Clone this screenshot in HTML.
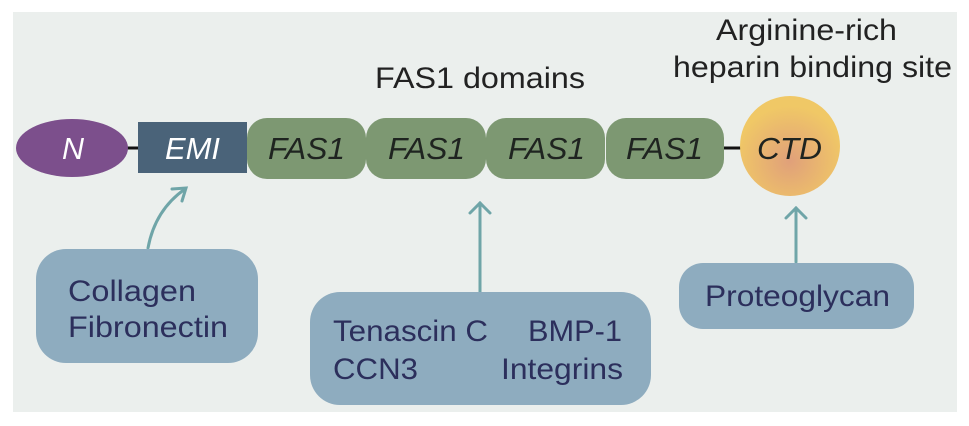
<!DOCTYPE html>
<html><head><style>
html,body{margin:0;padding:0;background:#fff;}
svg{display:block;}
</style></head><body>
<svg width="969" height="426" viewBox="0 0 969 426" xmlns="http://www.w3.org/2000/svg" font-family="'Liberation Sans', Arial, sans-serif">
<defs>
<radialGradient id="g" cx="50%" cy="65%" r="55%">
<stop offset="0" stop-color="#e0a07a"/><stop offset="0.6" stop-color="#eab86e"/><stop offset="1" stop-color="#f0c866"/>
</radialGradient>
</defs>
<rect x="13" y="12" width="944" height="400" fill="#ebefed"/>
<g font-size="30" fill="#222">
<text x="375" y="88" textLength="210" lengthAdjust="spacingAndGlyphs">FAS1 domains</text>
<text x="716" y="40" textLength="181" lengthAdjust="spacingAndGlyphs">Arginine-rich</text>
<text x="673" y="77" textLength="279" lengthAdjust="spacingAndGlyphs">heparin binding site</text>
</g>
<line x1="126" y1="148" x2="140" y2="148" stroke="#111" stroke-width="3"/>
<line x1="722" y1="148" x2="742" y2="148" stroke="#111" stroke-width="3"/>
<ellipse cx="72" cy="148" rx="56" ry="29" fill="#7c4f8c"/>
<text x="62" y="159" font-size="31" font-style="italic" fill="#fff" textLength="22" lengthAdjust="spacingAndGlyphs">N</text>
<rect x="138" y="122" width="109" height="51" fill="#4a6379"/>
<text x="165" y="159" font-size="31" font-style="italic" fill="#fff" textLength="55" lengthAdjust="spacingAndGlyphs">EMI</text>
<rect x="247" y="118" width="119" height="61" rx="20" fill="#7d9872"/>
<rect x="366" y="118" width="120" height="61" rx="20" fill="#7d9872"/>
<rect x="486" y="118" width="119" height="61" rx="20" fill="#7d9872"/>
<rect x="606" y="118" width="118" height="61" rx="20" fill="#7d9872"/>
<circle cx="790" cy="146" r="50" fill="url(#g)"/>
<g font-size="31" font-style="italic" fill="#1f2420">
<text x="268" y="159" textLength="77" lengthAdjust="spacingAndGlyphs">FAS1</text>
<text x="388" y="159" textLength="77" lengthAdjust="spacingAndGlyphs">FAS1</text>
<text x="508" y="159" textLength="77" lengthAdjust="spacingAndGlyphs">FAS1</text>
<text x="626" y="159" textLength="77" lengthAdjust="spacingAndGlyphs">FAS1</text>
<text x="757" y="159" textLength="65" lengthAdjust="spacingAndGlyphs">CTD</text>
</g>
<g stroke="#6fa5a8" stroke-width="3" fill="none" stroke-linecap="round">
<path d="M148 248 Q155 210 185 189"/><path d="M172 189 L186 188 L182 201"/>
<line x1="480" y1="292" x2="480" y2="203"/><path d="M470 213 L480 203 L490 213"/>
<line x1="796" y1="262" x2="796" y2="208"/><path d="M786 218 L796 208 L806 218"/>
</g>
<rect x="36" y="249" width="222" height="114" rx="30" fill="#8eacbf"/>
<rect x="310" y="292" width="341" height="113" rx="30" fill="#8eacbf"/>
<rect x="679" y="263" width="235" height="66" rx="24" fill="#8eacbf"/>
<g font-size="30" fill="#2c2f5c">
<text x="68" y="301" textLength="128" lengthAdjust="spacingAndGlyphs">Collagen</text>
<text x="68" y="337" textLength="160" lengthAdjust="spacingAndGlyphs">Fibronectin</text>
<text x="333" y="341" textLength="155" lengthAdjust="spacingAndGlyphs">Tenascin C</text>
<text x="333" y="379" textLength="85" lengthAdjust="spacingAndGlyphs">CCN3</text>
<text x="528" y="341" textLength="94" lengthAdjust="spacingAndGlyphs">BMP-1</text>
<text x="501" y="379" textLength="122" lengthAdjust="spacingAndGlyphs">Integrins</text>
<text x="705" y="306" textLength="185" lengthAdjust="spacingAndGlyphs">Proteoglycan</text>
</g>
</svg>
</body></html>
